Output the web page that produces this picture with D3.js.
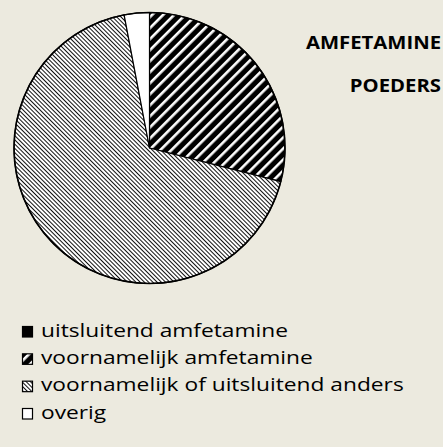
<!DOCTYPE html>
<html>
<head>
<meta charset="utf-8">
<script src="https://cdn.jsdelivr.net/npm/d3@7"></script>
<style>
  html, body { margin: 0; padding: 0; background: #eceadf; }
  svg { display: block; }
  text { font-family: "Open Sans", "DejaVu Sans", sans-serif; fill: #000; }
</style>
</head>
<body>
<svg id="chart" width="443" height="447"></svg>
<script>
// Samenstelling amfetamine-poeders (%)
const categories = [
  "uitsluitend amfetamine",
  "voornamelijk amfetamine",
  "voornamelijk of uitsluitend anders",
  "overig"
];
const shares = [0, 29, 68, 3];
const titleLines = ["AMFETAMINE", "POEDERS"];

const svg = d3.select("#chart");
const W = 443, H = 447;

svg.append("rect").attr("width", W).attr("height", H).attr("fill", "#eceadf");

// Fill patterns
const defs = svg.append("defs");

// thick upward diagonal: black with thin white lines
const pWide = defs.append("pattern")
  .attr("id", "wideUp")
  .attr("patternUnits", "userSpaceOnUse")
  .attr("width", 7.8).attr("height", 7.8)
  .attr("patternTransform", "rotate(45)");
pWide.append("rect").attr("width", 7.8).attr("height", 7.8).attr("fill", "#000");
pWide.append("rect").attr("x", 0).attr("width", 2.6).attr("height", 7.8).attr("fill", "#fff");

// fine downward diagonal: thin black lines on white
const pFine = defs.append("pattern")
  .attr("id", "fineDown")
  .attr("patternUnits", "userSpaceOnUse")
  .attr("width", 3).attr("height", 3)
  .attr("patternTransform", "rotate(-45)");
pFine.append("rect").attr("width", 3).attr("height", 3).attr("fill", "#fff");
pFine.append("rect").attr("x", 0).attr("width", 1.0).attr("height", 3).attr("fill", "#111");

const fills = ["#000", "url(#wideUp)", "url(#fineDown)", "#fff"];

// Pie
const cx = 149.5, cy = 148, r = 135.5;
const pie = d3.pie().sort(null).value(d => d.v);
const arcs = pie(categories.map((c, i) => ({ c, v: shares[i], i })));
const arc = d3.arc().innerRadius(0).outerRadius(r);

const g = svg.append("g").attr("transform", `translate(${cx},${cy})`);
g.selectAll("path.slice")
  .data(arcs)
  .join("path")
  .attr("class", "slice")
  .attr("d", arc)
  .attr("fill", d => fills[d.data.i])
  .attr("stroke", "#000")
  .attr("stroke-width", 1.2)
  .attr("stroke-linejoin", "round");
g.append("circle").attr("r", r).attr("fill", "none")
  .attr("stroke", "#000").attr("stroke-width", 1.6);

// Title (wide lettering, right-aligned against the edge)
const titleY = [49, 92];
svg.selectAll("text.title")
  .data(titleLines)
  .join("text")
  .attr("class", "title")
  .attr("transform", (d, i) => `translate(441,${titleY[i]}) scale(1.14,1)`)
  .attr("text-anchor", "end")
  .attr("font-size", 17.8)
  .attr("font-weight", "bold")
  .text(d => d);

// Legend
const legY = d3.scalePoint().domain(categories).range([332, 414]);
const leg = svg.append("g");
const items = leg.selectAll("g.item")
  .data(categories)
  .join("g")
  .attr("class", "item")
  .attr("transform", d => `translate(22,${legY(d)})`);
items.append("rect")
  .attr("x", 0.5).attr("y", -5.5)
  .attr("width", 10).attr("height", 10.5)
  .attr("fill", (d, i) => fills[i])
  .attr("stroke", "#000").attr("stroke-width", 1.2);
items.append("text")
  .attr("transform", "translate(19,4.8) scale(1.3,1)")
  .attr("font-size", 17.5)
  .text(d => d);
</script>
</body>
</html>
